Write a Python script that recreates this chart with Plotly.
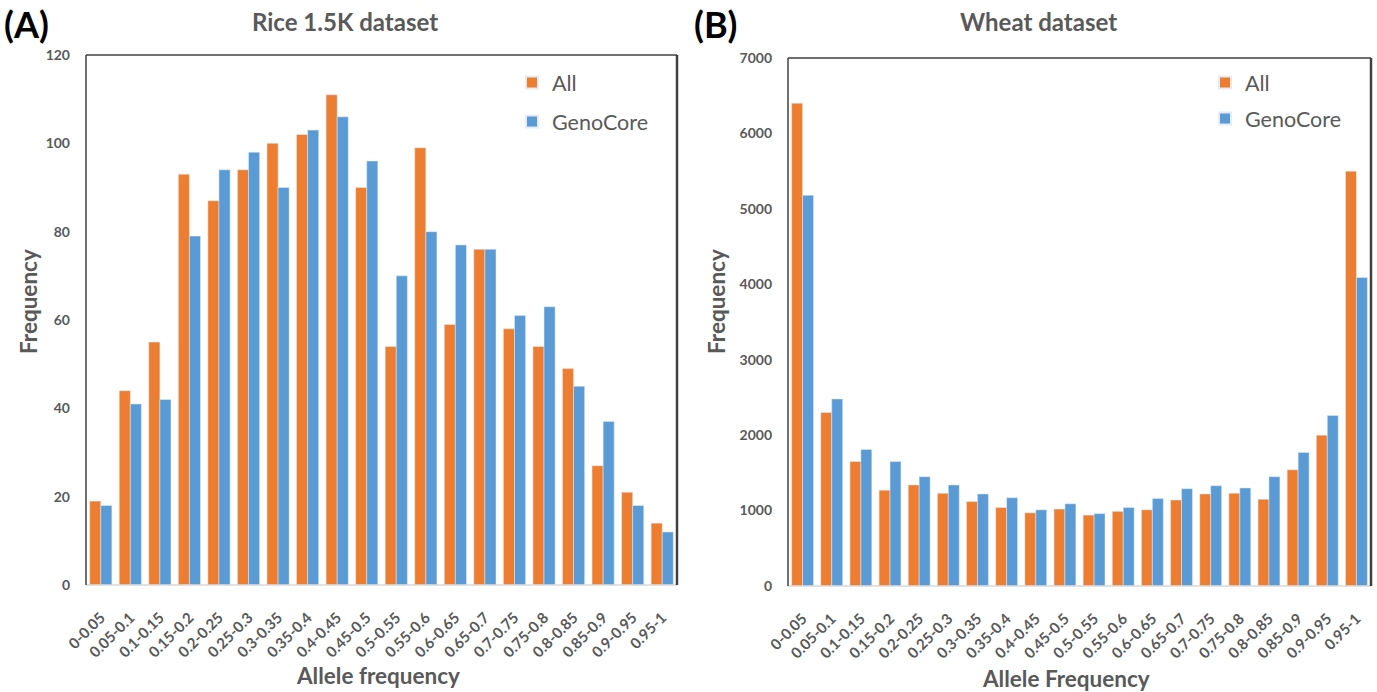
import plotly.graph_objects as go

categories = ["0-0.05", "0.05-0.1", "0.1-0.15", "0.15-0.2", "0.2-0.25", "0.25-0.3",
              "0.3-0.35", "0.35-0.4", "0.4-0.45", "0.45-0.5", "0.5-0.55", "0.55-0.6",
              "0.6-0.65", "0.65-0.7", "0.7-0.75", "0.75-0.8", "0.8-0.85", "0.85-0.9",
              "0.9-0.95", "0.95-1"]

rice_all = [19, 44, 55, 93, 87, 94, 100, 102, 111, 90, 54, 99, 59, 76, 58, 54, 49, 27, 21, 14]
rice_genocore = [18, 41, 42, 79, 94, 98, 90, 103, 106, 96, 70, 80, 77, 76, 61, 63, 45, 37, 18, 12]

wheat_all = [6400, 2300, 1650, 1270, 1340, 1230, 1120, 1040, 970, 1020, 940, 990, 1010,
             1140, 1220, 1230, 1150, 1540, 2000, 5500]
wheat_genocore = [5180, 2480, 1810, 1650, 1450, 1340, 1220, 1170, 1010, 1090, 960, 1040,
                  1160, 1290, 1330, 1300, 1450, 1770, 2260, 4090]

ORANGE = "#ED7D31"
BLUE = "#5B9BD5"
GRAY = "#595959"
FONT = "Lato"

W, H = 1377, 692

def px(x):
    return x / W

def py(y):
    return 1 - y / H

fig = go.Figure()

fig.add_trace(go.Bar(x=categories, y=rice_all, name="All", marker_color=ORANGE,
                     xaxis="x", yaxis="y", legend="legend", legendgroup="a"))
fig.add_trace(go.Bar(x=categories, y=rice_genocore, name="GenoCore", marker_color=BLUE,
                     xaxis="x", yaxis="y", legend="legend", legendgroup="b"))
fig.add_trace(go.Bar(x=categories, y=wheat_all, name="All", marker_color=ORANGE,
                     xaxis="x2", yaxis="y2", legend="legend2", legendgroup="c"))
fig.add_trace(go.Bar(x=categories, y=wheat_genocore, name="GenoCore", marker_color=BLUE,
                     xaxis="x2", yaxis="y2", legend="legend2", legendgroup="d"))

xtickfont = dict(family=FONT, size=15, color=GRAY, weight="bold")
ytickfont = dict(family=FONT, size=14, color=GRAY, weight="bold")

common_x = dict(type="category", showgrid=False, showline=False, ticks="",
                tickangle=-45, tickfont=xtickfont, ticklabelstandoff=20,
                fixedrange=True, automargin=False)
common_y = dict(showgrid=False, showline=False, ticks="", zeroline=False,
                tickfont=ytickfont, ticklabelstandoff=15, fixedrange=True,
                automargin=False)

legfont = dict(family=FONT, size=21.5, color=GRAY)

fig.update_layout(
    width=W, height=H,
    margin=dict(l=0, r=0, t=0, b=0, autoexpand=False),
    paper_bgcolor="white", plot_bgcolor="white",
    barmode="group", bargap=0.25, bargroupgap=0,
    font=dict(family=FONT, color=GRAY),
    xaxis=dict(domain=[px(86), px(677)], anchor="y", **common_x),
    yaxis=dict(domain=[py(585), py(55)], anchor="x", range=[0, 120], dtick=20, **common_y),
    xaxis2=dict(domain=[px(788), px(1371)], anchor="y2", **common_x),
    yaxis2=dict(domain=[py(586), py(58)], anchor="x2", range=[0, 7000], dtick=1000, **common_y),
    legend=dict(x=px(512), y=py(62), xanchor="left", yanchor="top",
                font=legfont, bgcolor="rgba(0,0,0,0)",
                traceorder="grouped", tracegroupgap=8, itemsizing="constant"),
    legend2=dict(x=px(1205), y=py(62), xanchor="left", yanchor="top",
                 font=legfont, bgcolor="rgba(0,0,0,0)",
                 traceorder="grouped", tracegroupgap=5, itemsizing="constant"),
)

# plot area frames
for xr, yr in (("x domain", "y domain"), ("x2 domain", "y2 domain")):
    fig.add_shape(type="line", xref=xr, yref=yr, x0=0, x1=1, y0=0, y1=0,
                  line=dict(color="#D9D9D9", width=1.5))
    fig.add_shape(type="line", xref=xr, yref=yr, x0=0, x1=0, y0=0, y1=1,
                  line=dict(color="#404040", width=1.5))
    fig.add_shape(type="line", xref=xr, yref=yr, x0=0, x1=1, y0=1, y1=1,
                  line=dict(color="#404040", width=1.5))
    fig.add_shape(type="line", xref=xr, yref=yr, x0=1, x1=1, y0=0, y1=1,
                  line=dict(color="#404040", width=2.5))

titlefont = dict(family=FONT, size=24, color=GRAY, weight="bold")
axfont = dict(family=FONT, size=22.5, color=GRAY, weight="bold")
panelfont = dict(family=FONT, size=36, color="black", weight="bold")

annotations = [
    dict(text="(A)", x=px(2), y=py(24), xanchor="left", yanchor="middle", font=panelfont),
    dict(text="(B)", x=px(692), y=py(24), xanchor="left", yanchor="middle", font=panelfont),
    dict(text="Rice 1.5K dataset", x=px(345), y=py(21), xanchor="center", yanchor="middle", font=titlefont),
    dict(text="Wheat dataset", x=px(1038), y=py(21), xanchor="center", yanchor="middle", font=titlefont),
    dict(text="Allele frequency", x=px(378), y=py(675), xanchor="center", yanchor="middle", font=axfont),
    dict(text="Allele Frequency", x=px(1066), y=py(678), xanchor="center", yanchor="middle", font=axfont),
    dict(text="Frequency", x=px(28), y=py(302), xanchor="center", yanchor="middle", textangle=-90, font=axfont),
    dict(text="Frequency", x=px(716), y=py(302), xanchor="center", yanchor="middle", textangle=-90, font=axfont),
]
for a in annotations:
    a.update(xref="paper", yref="paper", showarrow=False)
fig.update_layout(annotations=annotations)

fig.write_html("out.html")
